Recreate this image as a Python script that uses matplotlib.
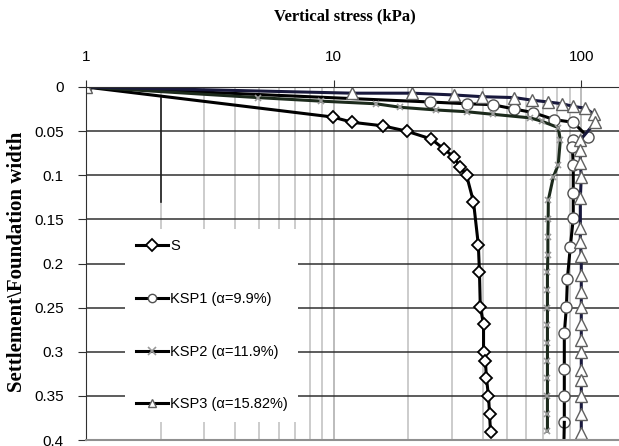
import numpy as np
import matplotlib
matplotlib.use("Agg")
import matplotlib.pyplot as plt
from matplotlib.ticker import FixedLocator, NullFormatter

# settlement / foundation width vs vertical stress (kPa)
s_stress = [1, 9.9, 11.9, 15.8, 19.7, 24.8, 27.8, 30.5, 32.5, 34.4, 36.7, 38.4, 38.8,
            39.1, 40.3, 40.3, 41.0, 41.4, 42.2, 42.6, 43.0]
s_settle = [0, 0.034, 0.040, 0.044, 0.050, 0.059, 0.070, 0.079, 0.091, 0.100, 0.130, 0.179, 0.210,
            0.249, 0.269, 0.300, 0.310, 0.330, 0.350, 0.370, 0.391]

ksp1_stress = [1, 24.6, 34.4, 43.8, 53.7, 64.0, 77.8, 92.8, 106.7, 92.8, 92.0, 92.8, 92.8,
               92.8, 90.3, 87.9, 87.1, 85.4, 85.4, 85.4, 85.4, 85.0]
ksp1_settle = [0, 0.017, 0.019, 0.020, 0.025, 0.029, 0.037, 0.040, 0.057, 0.060, 0.068, 0.088, 0.120,
               0.149, 0.181, 0.217, 0.249, 0.279, 0.319, 0.350, 0.380, 0.41]

ksp2_stress = [1, 4.94, 8.86, 14.8, 18.6, 25.8, 34.4, 44.2, 62.3, 69.6, 80.7, 82.3, 80.7, 77.1, 73.6,
               73.5, 73.3, 73.3, 73.0, 73.0, 73.0, 73.0, 73.0, 73.0, 73.0, 73.0, 73.0, 73.0]
ksp2_settle = [0, 0.012, 0.016, 0.019, 0.023, 0.026, 0.028, 0.031, 0.035, 0.039, 0.046, 0.060, 0.088,
               0.102, 0.128, 0.150, 0.170, 0.190, 0.210, 0.230, 0.250, 0.270, 0.290, 0.310, 0.330,
               0.350, 0.370, 0.390]

ksp3_stress = [1, 11.9, 20.8, 30.5, 39.9, 53.7, 63.5, 73.6, 83.8, 92.8, 103.8, 112.8, 114, 99.1,
               99.1, 99.1, 100, 99.1, 99.1, 99.1, 100, 100, 100, 100, 100, 100, 100, 100, 100, 100,
               100, 100]
ksp3_settle = [0, 0.007, 0.007, 0.009, 0.011, 0.012, 0.015, 0.017, 0.019, 0.022, 0.024, 0.031, 0.040,
               0.060, 0.071, 0.086, 0.102, 0.126, 0.160, 0.176, 0.192, 0.213, 0.232, 0.249, 0.269,
               0.287, 0.300, 0.321, 0.332, 0.350, 0.370, 0.392]

labels = ["S", "KSP1 (\u03b1=9.9%)", "KSP2 (\u03b1=11.9%)", "KSP3 (\u03b1=15.82%)"]
x_ticks = [1, 10, 100]
y_ticks = [0, 0.05, 0.1, 0.15, 0.2, 0.25, 0.3, 0.35, 0.4]
y_ticklabels = ["0", "0.05", "0.1", "0.15", "0.2", "0.25", "0.3", "0.35", "0.4"]

# odd stray vertical line in the original
stray_x = [2, 2]
stray_y = [0.012, 0.13]

sans = ["Liberation Sans", "DejaVu Sans"]

fig = plt.figure(figsize=(6.19, 4.46), dpi=100)
ax = fig.add_axes([86 / 619, 1 - 440 / 446, 1 - 86 / 619, (440 - 87) / 446])

ax.set_xscale("log")
ax.set_xlim(1, 142)
ax.set_ylim(0.4, 0)

# grid
ax.xaxis.set_major_locator(FixedLocator(x_ticks))
ax.set_xticklabels([str(v) for v in x_ticks])
ax.xaxis.set_minor_locator(FixedLocator([v * d for d in (1, 10) for v in range(2, 10)]))
ax.xaxis.set_minor_formatter(NullFormatter())
ax.set_yticks(y_ticks)
ax.set_yticklabels(y_ticklabels)
ax.grid(which="minor", axis="x", color="#c4c4c4", lw=1.2)
ax.grid(which="major", axis="x", color="#b0b0b0", lw=1.2)
ax.grid(which="major", axis="y", color="#303030", lw=1.1)
ax.set_axisbelow(True)

ax.xaxis.tick_top()
ax.tick_params(axis="x", which="major", length=5, pad=11.5, labelsize=11, color="#303030")
ax.tick_params(axis="x", which="minor", length=0)
ax.tick_params(axis="y", length=6, pad=10, labelsize=11, color="#303030")
for lab in ax.get_xticklabels() + ax.get_yticklabels():
    lab.set_family(sans)

ax.spines["right"].set_visible(False)
ax.spines["left"].set_color("#303030")
ax.spines["top"].set_color("#303030")
ax.spines["bottom"].set_color("#909090")
ax.spines["bottom"].set_linewidth(1.5)

ax.plot(stray_x, stray_y, color="#202020", lw=1.2)

ax.plot(s_stress, s_settle, color="black", lw=2.2, marker="D", ms=6,
        mfc="white", mec="black", mew=1.3, label=labels[0])
ax.plot(ksp1_stress[:-1], ksp1_settle[:-1], color="black", lw=2.2, marker="o", ms=8,
        mfc="white", mec="#505050", mew=1.0, label=labels[1])
ax.plot(ksp1_stress[-2:], ksp1_settle[-2:], color="black", lw=2.2)
ax.plot(ksp2_stress, ksp2_settle, color="#1c2a1c", lw=2.2, marker="x", ms=5,
        mec="#9a9a9a", mew=1.2, label=labels[2])
ax.plot(ksp3_stress, ksp3_settle, color="#18183c", lw=2.2, marker="^", ms=8,
        mfc="white", mec="#606060", mew=1.0, label=labels[3])

leg = ax.legend(loc="upper left", bbox_to_anchor=(32 / 533, 1 - (222 - 87) / 353),
                frameon=True, facecolor="white", edgecolor="none", framealpha=1,
                fancybox=False, borderpad=0.7, labelspacing=2.65, handlelength=2.2,
                handletextpad=0.2, prop={"family": sans, "size": 10.5})
for h in leg.legend_handles:
    h.set_color("black")
    h.set_markersize(6)

fig.text(345 / 619, 1 - 16 / 446, "Vertical stress (kPa)", ha="center", va="center",
         family="Liberation Serif", fontsize=12, fontweight="bold")
fig.text(17 / 619, 1 - 262 / 446, "Settlement\\Foundation width", ha="center", va="center",
         rotation=90, family="Liberation Serif", fontsize=15, fontweight="bold")

fig.savefig("out.png", dpi=100)
